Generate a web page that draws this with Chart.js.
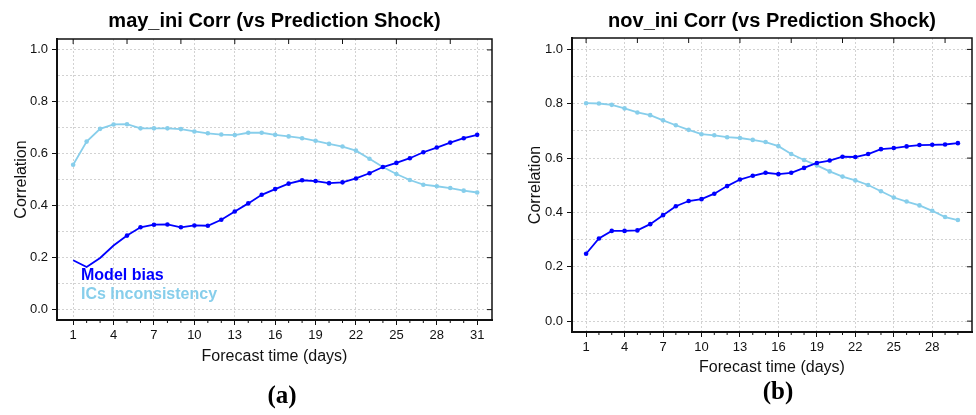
<!DOCTYPE html>
<html>
<head>
<meta charset="utf-8">
<script src="https://cdn.jsdelivr.net/npm/chart.js@4.4.1/dist/chart.umd.min.js"></script>
<style>
  body { margin: 0; background: #fff; }
  #wrap { position: relative; width: 976px; height: 415px; }
  .panel { position: absolute; top: 0; height: 415px; }
  #panel_a { left: 0; width: 500px; }
  #panel_b { left: 500px; width: 476px; }
</style>
</head>
<body>
<div id="wrap">
  <div class="panel" id="panel_a"><canvas id="may_chart"></canvas></div>
  <div class="panel" id="panel_b"><canvas id="nov_chart"></canvas></div>
</div>
<script>
// DATA
const mayDays = [1,2,3,4,5,6,7,8,9,10,11,12,13,14,15,16,17,18,19,20,21,22,23,24,25,26,27,28,29,30,31];
const novDays = [1,2,3,4,5,6,7,8,9,10,11,12,13,14,15,16,17,18,19,20,21,22,23,24,25,26,27,28,29,30];

const mayModelBias = [0.190, 0.164, 0.199, 0.247, 0.285, 0.317, 0.327, 0.328, 0.317, 0.324,
                      0.323, 0.346, 0.378, 0.409, 0.442, 0.464, 0.485, 0.498, 0.495, 0.487,
                      0.490, 0.505, 0.525, 0.549, 0.565, 0.583, 0.606, 0.624, 0.643, 0.660, 0.673];
const mayICs = [0.558, 0.647, 0.696, 0.713, 0.714, 0.698, 0.698, 0.698, 0.695, 0.686,
                0.679, 0.674, 0.672, 0.681, 0.681, 0.673, 0.667, 0.660, 0.650, 0.638,
                0.628, 0.612, 0.581, 0.549, 0.522, 0.499, 0.481, 0.475, 0.468, 0.458, 0.451];

const novModelBias = [0.248, 0.304, 0.332, 0.332, 0.334, 0.357, 0.390, 0.423, 0.442, 0.449,
                      0.469, 0.497, 0.521, 0.535, 0.546, 0.541, 0.546, 0.564, 0.582, 0.591,
                      0.605, 0.604, 0.615, 0.633, 0.637, 0.643, 0.648, 0.649, 0.650, 0.655];
const novICs = [0.802, 0.801, 0.796, 0.783, 0.768, 0.758, 0.739, 0.721, 0.704, 0.688,
                0.684, 0.677, 0.674, 0.667, 0.659, 0.644, 0.615, 0.593, 0.573, 0.551,
                0.532, 0.518, 0.501, 0.478, 0.455, 0.440, 0.426, 0.406, 0.383, 0.372];

const yTicks = [0, 0.1, 0.2, 0.3, 0.4, 0.5, 0.6, 0.7, 0.8, 0.9, 1.0];
const topTickDays = [1, 5, 9, 13, 17, 21, 25, 29];

const BLUE = '#0000ff';
const SKY = '#87ceeb';
const GRID = '#d2d2d2';

Chart.defaults.font.family = '"Liberation Sans", Arial, sans-serif';
Chart.defaults.color = '#111';

const isMajorDay = v => (v - 1) % 3 === 0;
const isLabelY = v => Math.round(v * 10) % 2 === 0;

// frame, inner ticks, minor ticks, legend text, panel letter
const frame_plugin = {
    id: 'frame',
    afterDraw(chart, args, opts) {
        const {ctx, chartArea: a, scales: {x, y}} = chart;
        ctx.save();
        ctx.strokeStyle = '#111';
        ctx.lineWidth = 1.5;
        ctx.beginPath();
        ctx.moveTo(a.left, a.top);
        ctx.lineTo(a.right, a.top);
        ctx.lineTo(a.right, a.bottom);
        ctx.stroke();

        ctx.lineWidth = 1;
        ctx.beginPath();
        opts.days.forEach(d => {
            if (isMajorDay(d)) return;
            const px = x.getPixelForValue(d);
            ctx.moveTo(px, a.bottom);
            ctx.lineTo(px, a.bottom + 3);
        });
        topTickDays.forEach(d => {
            const px = x.getPixelForValue(d);
            ctx.moveTo(px, a.top);
            ctx.lineTo(px, a.top + 5);
        });
        yTicks.filter(isLabelY).forEach(v => {
            const py = y.getPixelForValue(v);
            ctx.moveTo(a.right, py);
            ctx.lineTo(a.right - 5, py);
        });
        ctx.stroke();

        if (opts.legend) {
            ctx.font = 'bold 16px "Liberation Sans", Arial, sans-serif';
            ctx.textAlign = 'left';
            ctx.textBaseline = 'middle';
            ctx.fillStyle = BLUE;
            ctx.fillText('Model bias', a.left + 24, a.bottom - 44);
            ctx.fillStyle = SKY;
            ctx.fillText('ICs Inconsistency', a.left + 24, a.bottom - 25);
        }

        ctx.font = 'bold 25px "Liberation Serif", "Times New Roman", serif';
        ctx.textAlign = 'center';
        ctx.textBaseline = 'middle';
        ctx.fillStyle = '#000';
        ctx.fillText(opts.letter, opts.letterX, opts.letterY);
        ctx.restore();
    }
};

function makeConfig(title, days, bias, ics, o) {
    return {
        type: 'line',
        data: {
            labels: days,
            datasets: [{
                label: 'Model bias',
                data: days.map((d, i) => ({x: d, y: bias[i]})),
                borderColor: BLUE,
                backgroundColor: BLUE,
                borderWidth: 1.8,
                pointRadius: days.map(d => d < o.firstMarker ? 0 : 2.3),
                pointBorderWidth: 0,
                tension: 0
            }, {
                label: 'ICs Inconsistency',
                data: days.map((d, i) => ({x: d, y: ics[i]})),
                borderColor: SKY,
                backgroundColor: SKY,
                borderWidth: 1.8,
                pointRadius: 2.3,
                pointBorderWidth: 0,
                tension: 0
            }]
        },
        options: {
            responsive: true,
            maintainAspectRatio: false,
            animation: false,
            layout: {
                padding: {left: 0, top: 0, right: o.padRight, bottom: o.padBottom}
            },
            plugins: {
                legend: {display: false},
                tooltip: {enabled: false},
                title: {
                    display: true,
                    text: title,
                    fullSize: false,
                    color: '#000',
                    font: {size: 20, weight: 'bold'},
                    padding: {top: 9, bottom: o.titlePadBottom}
                },
                frame: {
                    days: days,
                    legend: o.legend,
                    letter: o.letter,
                    letterX: o.letterX,
                    letterY: o.letterY
                }
            },
            scales: {
                x: {
                    type: 'linear',
                    min: o.xMin,
                    max: o.xMax,
                    afterBuildTicks: s => { s.ticks = days.map(v => ({value: v})); },
                    afterFit: s => { s.height = 50; },
                    border: {display: true, color: '#111', width: 2, dash: [2, 2]},
                    grid: {
                        color: c => isMajorDay(c.tick.value) ? GRID : 'rgba(0,0,0,0)',
                        lineWidth: 1,
                        tickLength: 5,
                        tickColor: c => isMajorDay(c.tick.value) ? '#111' : 'rgba(0,0,0,0)'
                    },
                    ticks: {
                        autoSkip: false,
                        maxRotation: 0,
                        padding: 3,
                        font: {size: 13},
                        callback: v => isMajorDay(v) ? String(v) : ''
                    },
                    title: {
                        display: true,
                        text: 'Forecast time (days)',
                        font: {size: 16},
                        padding: {top: 0, bottom: o.xTitlePad}
                    }
                },
                y: {
                    min: -0.04,
                    max: 1.042,
                    afterBuildTicks: s => { s.ticks = yTicks.map(v => ({value: v})); },
                    afterFit: s => { s.width = o.yWidth; },
                    border: {display: true, color: '#111', width: 2, dash: [2, 2]},
                    grid: {
                        color: GRID,
                        lineWidth: 1,
                        tickLength: 5,
                        tickColor: c => isLabelY(c.tick.value) ? '#111' : 'rgba(0,0,0,0)'
                    },
                    ticks: {
                        padding: 4,
                        font: {size: 13},
                        callback: v => isLabelY(v) ? v.toFixed(1) : ''
                    },
                    title: {
                        display: true,
                        text: 'Correlation',
                        font: {size: 16},
                        padding: {top: o.yTitlePad, bottom: 0}
                    }
                }
            }
        },
        plugins: [frame_plugin]
    };
}

// MAY INITIALISATION
const may_chart = new Chart(document.getElementById('may_chart'), makeConfig(
    'may_ini Corr (vs Prediction Shock)', mayDays, mayModelBias, mayICs, {
        xMin: -0.2, xMax: 32.1, padRight: 8, padBottom: 45, titlePadBottom: 6,
        yWidth: 57, yTitlePad: 12, xTitlePad: 4, firstMarker: 5, legend: true,
        letter: '(a)', letterX: 282, letterY: 397
    }));

// NOV INITIALISATION
const nov_chart = new Chart(document.getElementById('nov_chart'), makeConfig(
    'nov_ini Corr (vs Prediction Shock)', novDays, novModelBias, novICs, {
        xMin: -0.1, xMax: 31.1, padRight: 3, padBottom: 33, titlePadBottom: 5,
        yWidth: 72, yTitlePad: 26, xTitlePad: 5, firstMarker: 0, legend: false,
        letter: '(b)', letterX: 278, letterY: 393
    }));
</script>
</body>
</html>
